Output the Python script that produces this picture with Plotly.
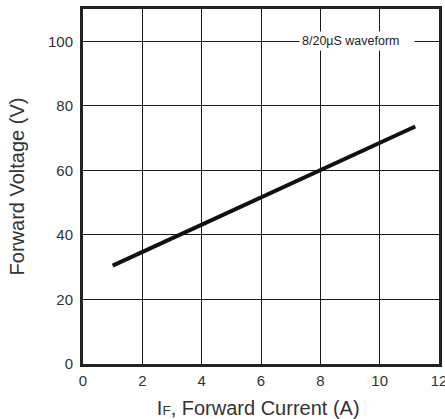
import plotly.graph_objects as go

current_a = [1.0, 11.2]
voltage_v = [30.5, 73.6]
x_ticks = [0, 2, 4, 6, 8, 10, 12]
y_ticks = [0, 20, 40, 60, 80, 100]
note_text = "8/20µS waveform"
x_title = "I<span style='font-size:13.5px'>F</span>, Forward Current (A)&nbsp;"
y_title = "Forward Voltage (V)"

fig = go.Figure()
fig.add_trace(go.Scatter(x=current_a, y=voltage_v, mode="lines",
                         line=dict(color="#111111", width=4), showlegend=False,
                         hoverinfo="skip"))

fig.add_annotation(x=9.24, y=100, text=note_text, showarrow=False,
                   bgcolor="white", font=dict(size=12.5, color="#222222"),
                   width=110, align="left", borderpad=2)

fig.update_layout(
    width=445, height=419,
    margin=dict(l=83, r=6, t=9, b=55),
    paper_bgcolor="white", plot_bgcolor="white",
    font=dict(family="Liberation Sans, Arial, sans-serif", color="#333333"),
)
fig.update_xaxes(range=[0, 12], tickvals=x_ticks, ticktext=[str(v) for v in x_ticks],
                 showgrid=True, gridcolor="#1a1a1a", gridwidth=1,
                 showline=True, linecolor="#222222", linewidth=3, mirror=True,
                 zeroline=False, ticks="", ticklabelstandoff=1, automargin=False,
                 ticklabeloverflow="allow",
                 tickfont=dict(size=15, color="#333333"),
                 title=dict(text=x_title, font=dict(size=20, color="#333333"), standoff=13))
fig.update_yaxes(range=[0, 110], tickvals=y_ticks, ticktext=[str(v) for v in y_ticks],
                 showgrid=True, gridcolor="#1a1a1a", gridwidth=1,
                 showline=True, linecolor="#222222", linewidth=3, mirror=True,
                 zeroline=False, ticks="", ticklabelstandoff=4, automargin=False,
                 ticklabeloverflow="allow",
                 tickfont=dict(size=15, color="#333333"),
                 title=dict(text=y_title, font=dict(size=20, color="#333333"), standoff=18))

fig.write_html("out.html", config={"displayModeBar": False},
               post_script="document.body.style.margin='0';")
